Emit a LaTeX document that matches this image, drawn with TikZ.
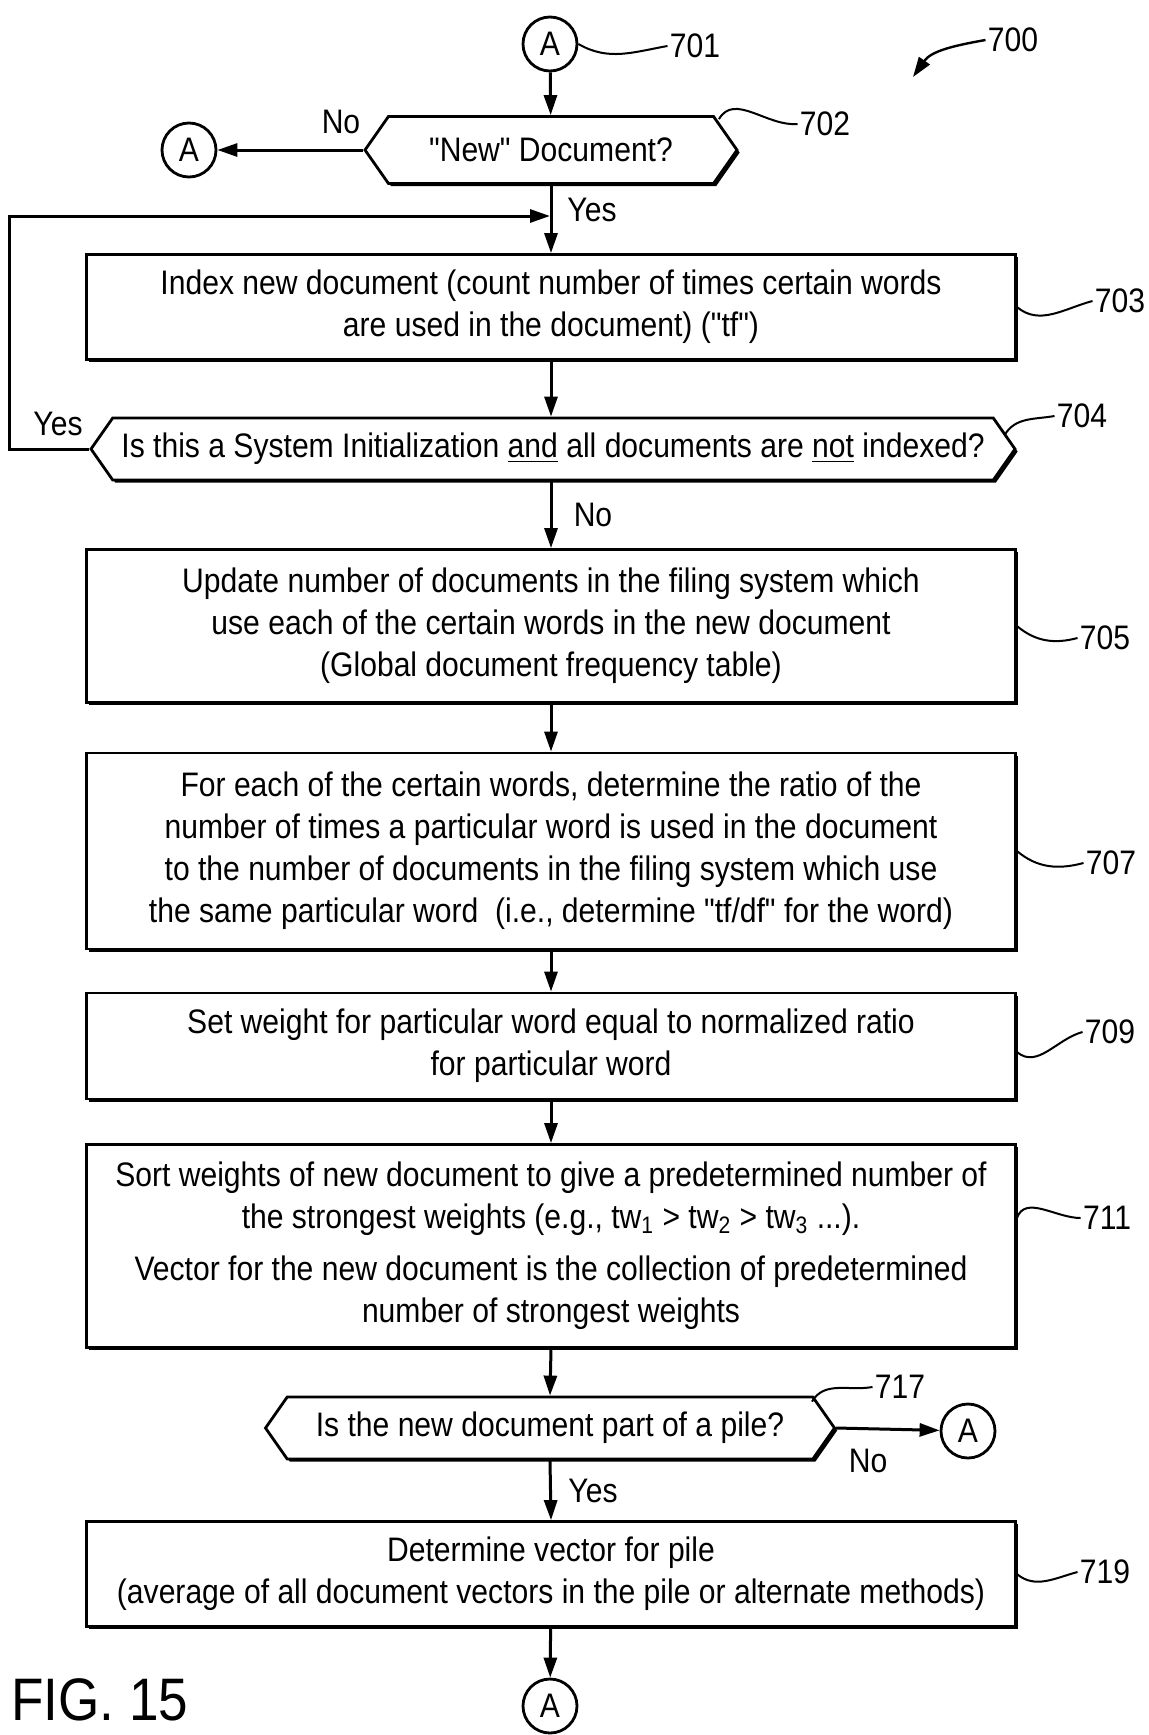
\documentclass[tikz,border=0pt]{standalone}
\usepackage{fontspec}
\setmainfont[FakeStretch=0.885,Ligatures=TeXOff]{Liberation Sans}
\usetikzlibrary{arrows.meta,shapes.symbols,shadows}

\begin{document}
\begin{tikzpicture}[x=0.5pt,y=0.5pt,
  font=\fontsize{17pt}{21pt}\selectfont,
  flow/.style={-{Triangle[length=10pt,width=6.5pt]}, line width=1.5pt},
  leader/.style={line width=1pt},
  shade/.style={drop shadow={shadow xshift=1.3pt,shadow yshift=-1.3pt,fill=black,opacity=1}},
  stepbox/.style={draw, line width=1.4pt, fill=white, shade, align=center,
    inner sep=0pt, minimum width=464.5pt},
  decision/.style={draw, line width=1.4pt, fill=white, shade, signal,
    signal to=west and east, signal pointer angle=110, inner sep=0pt, align=center},
  conn/.style={draw, circle, line width=1.4pt, fill=white, inner sep=0pt, minimum size=27pt},
  refnum/.style={inner sep=1pt}
]
\useasboundingbox (0,0) rectangle (1149,-1735);

% connectors "A"
\node[conn] (cA1) at (550,-44) {A};
\node[conn] (cAl) at (189,-150) {A};
\node[conn] (cAr) at (968,-1431) {A};
\node[conn] (cAb) at (550,-1706) {A};

% steps
\node[decision, minimum width=186pt, minimum height=33.5pt] (d702) at (551,-150) {"New" Document?};
\node[stepbox, minimum height=52.5pt] (b703) at (551,-307) {Index new document (count number of times certain words\\are used in the document) ("tf")};
\node[decision, minimum width=462pt, minimum height=31pt] (d704) at (553,-449) {Is this a System Initialization \underline{and} all documents are \underline{not} indexed?};
\node[stepbox, minimum height=76.5pt] (b705) at (551,-626) {Update number of documents in the filing system which\\use each of the certain words in the new document\\(Global document frequency table)};
\node[stepbox, minimum height=98pt] (b707) at (551,-851) {For each of the certain words, determine the ratio of the\\number of times a particular word is used in the document\\to the number of documents in the filing system which use\\the same particular word\ \ (i.e., determine "tf/df" for the word)};
\node[stepbox, minimum height=53pt] (b709) at (551,-1046) {Set weight for particular word equal to normalized ratio\\for particular word};
\node[stepbox, minimum height=101.5pt] (b711) at (551,-1246) {Sort weights of new document to give a predetermined number of\\the strongest weights (e.g., tw\textsubscript{1} > tw\textsubscript{2} > tw\textsubscript{3} ...).\\[5pt]Vector for the new document is the collection of predetermined\\number of strongest weights};
\node[decision, minimum width=284.5pt, minimum height=31pt] (d717) at (550,-1428) {Is the new document part of a pile?};
\node[stepbox, minimum height=52.5pt] (b719) at (551,-1574) {Determine vector for pile\\(average of all document vectors in the pile or alternate methods)};

% flow
\coordinate (join) at (550,-216);
\coordinate (loopc) at (9,-216);
\draw[flow] (cA1) -- (d702);
\draw[flow] (d702.west) -- (cAl);
\draw[flow] (d702.south) -- (b703.north);
\draw[flow] (d704.west) -| (loopc) -- (join);
\draw[flow] (b703.south) -- (b703.south |- d704.north);
\draw[flow] (b703.south |- d704.south) -- (b705.north);
\draw[flow] (b705) -- (b707);
\draw[flow] (b707) -- (b709);
\draw[flow] (b709) -- (b711);
\draw[flow] (b711.south) -- (d717.north);
\draw[flow] (d717.east) -- (cAr);
\draw[flow] (d717.south) -- (b719.north);
\draw[flow] (b719) -- (cAb);

% yes / no
\node (no702) at (341,-122) {No};
\node (yes702) at (592,-210) {Yes};
\node (yes704) at (58,-424) {Yes};
\node (no704) at (593,-515) {No};
\node (no717) at (868,-1461) {No};
\node (yes717) at (593,-1491) {Yes};

% reference numerals
\node[refnum] (n700) at (1013,-40) {700};
\node[refnum] (n701) at (695,-46) {701};
\node[refnum] (n702) at (825,-124) {702};
\node[refnum] (n703) at (1120,-301) {703};
\node[refnum] (n704) at (1082,-416) {704};
\node[refnum] (n705) at (1105,-638) {705};
\node[refnum] (n707) at (1111,-863) {707};
\node[refnum] (n709) at (1110,-1032) {709};
\node[refnum] (n711) at (1107,-1218) {711};
\node[refnum] (n717) at (900,-1387) {717};
\node[refnum] (n719) at (1105,-1572) {719};
\coordinate (p700) at (913,-77);

\draw[flow, line width=1.2pt] (n700.west) to[out=190,in=55] (p700);
\draw[leader] (cA1.east) to[out=-30,in=190] (n701.west);
\draw[leader] ([xshift=84pt,yshift=-2pt]d702.north) to[out=60,in=185] (n702.west);
\draw[leader] (b703.east) to[out=-40,in=195] (n703.west);
\draw[leader] ([xshift=-6pt,yshift=7pt]d704.east) to[out=60,in=190] (n704.west);
\draw[leader] (b705.east) to[out=-40,in=195] (n705.west);
\draw[leader] (b707.east) to[out=-40,in=195] (n707.west);
\draw[leader] ([yshift=-3pt]b709.east) to[out=-40,in=195] (n709.west);
\draw[leader] ([yshift=14pt]b711.east) to[out=70,in=180] (n711.west);
\draw[leader] ([xshift=131pt,yshift=-3pt]d717.north) to[out=60,in=190] (n717.west);
\draw[leader] (b719.east) to[out=-40,in=195] (n719.west);

\node (fig) at (100,-1700) {\fontsize{30pt}{30pt}\selectfont FIG. 15};
\end{tikzpicture}
\end{document}
